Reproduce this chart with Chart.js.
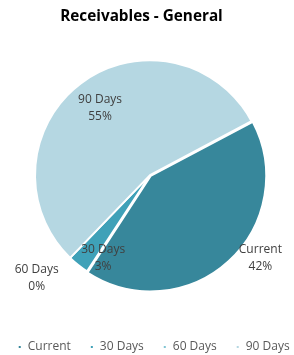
<!DOCTYPE html>
<html>
<head>
<meta charset="utf-8">
<script src="https://cdn.jsdelivr.net/npm/chart.js@4/dist/chart.umd.min.js"></script>
<style>
html,body{margin:0;padding:0;background:#fff;}
#wrap{width:294px;height:355px;position:relative;}
</style>
</head>
<body>
<div id="wrap"><canvas id="c" width="294" height="355"></canvas></div>
<script>
const categories = ['Current', '30 Days', '60 Days', '90 Days'];
const values = [42, 3, 0, 55];
const colors = ['#37879b', '#3fa1b8', '#80c4d3', '#b5d7e2'];
const titleText = 'Receivables - General';

const pieLabels = {
  id: 'pieLabels',
  afterDatasetsDraw(chart, args, opts) {
    const ctx = chart.ctx;
    const meta = chart.getDatasetMeta(0);
    const data = chart.data.datasets[0].data;
    const total = data.reduce((a, b) => a + b, 0);
    ctx.save();
    ctx.font = '12px "Open Sans"';
    ctx.fillStyle = '#404040';
    ctx.textAlign = 'center';
    ctx.textBaseline = 'middle';
    meta.data.forEach((arc, i) => {
      const p = arc.getProps(['x', 'y', 'startAngle', 'endAngle', 'outerRadius'], true);
      const mid = (p.startAngle + p.endAngle) / 2 + opts.angleShift[i] * Math.PI / 180;
      const r = p.outerRadius * opts.radiusFactor[i];
      const cx = p.x + Math.cos(mid) * r;
      const cy = p.y + Math.sin(mid) * r;
      const pct = Math.round(data[i] / total * 100) + '%';
      ctx.fillText(chart.data.labels[i], cx, cy - 8.5);
      ctx.fillText(pct, cx, cy + 8.5);
    });
    ctx.restore();
  }
};

// horizontally re-centres title, legend and plot area (offsets from canvas centre)
const boxShift = {
  id: 'boxShift',
  afterLayout(chart, args, opts) {
    const mid = chart.width / 2;
    const shift = (box, dx) => {
      if (!box) return;
      const d = mid + dx - (box.left + box.right) / 2;
      box.left += d; box.right += d;
    };
    shift(chart.titleBlock, opts.titleDx);
    shift(chart.legend, opts.legendDx);
    shift(chart.chartArea, opts.areaDx);
    chart.chartArea.top += opts.areaDy;
    chart.chartArea.bottom += opts.areaDy;
  }
};

new Chart(document.getElementById('c'), {
  type: 'pie',
  data: {
    labels: categories,
    datasets: [{
      data: values,
      backgroundColor: colors,
      borderColor: '#ffffff',
      borderWidth: 2,
      offset: [4, 0, 0, 0],
      radius: 115
    }]
  },
  options: {
    responsive: false,
    animation: false,
    rotation: 62,
    layout: { padding: { left: -10, right: -10, top: 0, bottom: -8 } },
    plugins: {
      title: {
        display: true,
        text: titleText,
        color: '#000000',
        font: { family: 'Open Sans', size: 15.3, weight: 'bold' },
        padding: { top: 7, bottom: 5 }
      },
      legend: {
        position: 'bottom',
        labels: {
          usePointStyle: true,
          pointStyle: 'rect',
          boxWidth: 4,
          boxHeight: 4,
          color: '#595959',
          font: { family: 'Open Sans', size: 12 },
          padding: 19
        }
      },
      tooltip: { enabled: false },
      boxShift: { titleDx: -5.5, legendDx: 6.7, areaDx: 3, areaDy: -1 },
      pieLabels: {
        angleShift: [-10.7, -9.2, 3.8, 0.5],
        radiusFactor: [1.2, 0.83, 1.33, 0.73]
      }
    }
  },
  plugins: [pieLabels, boxShift]
});
</script>
</body>
</html>
